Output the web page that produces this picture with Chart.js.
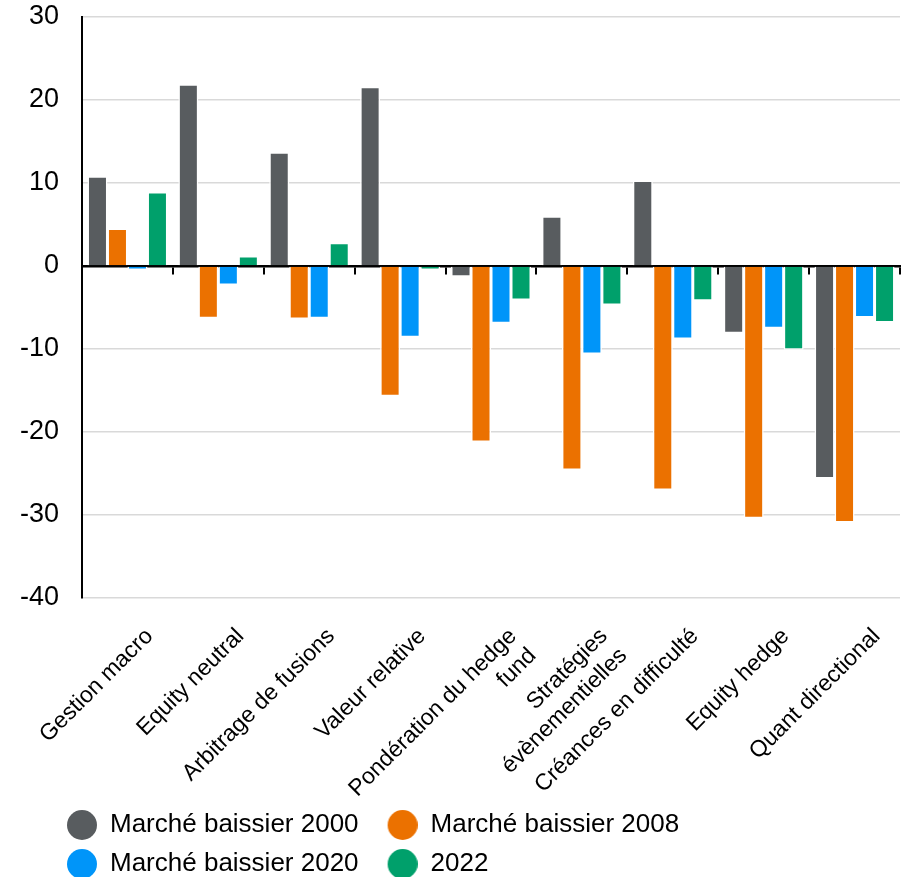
<!DOCTYPE html>
<html lang="fr">
<head>
    <meta charset="UTF-8">
    <title>Stratégies hedge fund - marchés baissiers</title>
    <script src="https://cdn.jsdelivr.net/npm/chart.js"></script>
    <style>
        html, body { margin: 0; padding: 0; background: #fff; }
        .chart-box { width: 914px; height: 877px; }
    </style>
</head>
<body>
    <div class="chart-box">
        <canvas id="hedgeGrafik"></canvas>
    </div>

    <script>
        // categories (multi-line ones as arrays)
        const categories = [
            'Gestion macro',
            'Equity neutral',
            'Arbitrage de fusions',
            'Valeur relative',
            ['Pondération du hedge', 'fund'],
            ['Stratégies', 'évènementielles'],
            'Créances en difficulté',
            'Equity hedge',
            'Quant directional'
        ];

        const bear2000 = [10.8, 21.9, 13.7, 21.6, -1.3, 6.0, 10.3, -8.1, -25.6];
        const bear2008 = [4.5, -6.3, -6.4, -15.7, -21.2, -24.6, -27.0, -30.4, -30.9];
        const bear2020 = [-0.5, -2.3, -6.3, -8.6, -6.9, -10.6, -8.8, -7.5, -6.2];
        const year2022 = [8.9, 1.2, 2.8, -0.5, -4.1, -4.7, -4.2, -10.1, -6.8];

        const yTicks = [30, 20, 10, 0, -10, -20, -30, -40];

        const colors = ['#585c5f', '#eb7100', '#0095f9', '#00a06b'];

        // legend marker: round dot sitting at the right end of a wider box
        function makeDot(color) {
            const c = document.createElement('canvas');
            c.width = 46;
            c.height = 30;
            const g = c.getContext('2d');
            g.fillStyle = color;
            g.beginPath();
            g.arc(31, 15, 15, 0, Math.PI * 2);
            g.fill();
            return c;
        }
        const dots = colors.map(makeDot);

        const xShrink = 50; // let the x labels run into the space above the legend

        // move the legend a bit and give the x labels their full room back
        const layoutTweak = {
            id: 'layoutTweak',
            afterLayout(chart) {
                const lg = chart.legend;
                if (lg) {
                    lg.left += 18;
                    lg.top += 10;
                    lg.bottom += 10;
                }
                chart.scales.x.bottom += xShrink;
            }
        };

        const noSidePadding = s => {
            s.paddingLeft = 0;
            s.paddingRight = 0;
        };

        const font = 'Liberation Sans, Arial, sans-serif';

        const ds = (label, data, i) => ({
            label: label,
            data: data,
            backgroundColor: colors[i],
            borderColor: '#ffffff',
            borderWidth: 1.5,
            barPercentage: 1.0,
            categoryPercentage: 0.88
        });

        new Chart(document.getElementById('hedgeGrafik'), {
            type: 'bar',
            data: {
                labels: categories,
                datasets: [
                    ds('Marché baissier 2000', bear2000, 0),
                    ds('Marché baissier 2008', bear2008, 1),
                    ds('Marché baissier 2020', bear2020, 2),
                    ds('2022', year2022, 3)
                ]
            },
            options: {
                responsive: true,
                maintainAspectRatio: false,
                animation: false,
                layout: { padding: { left: 20, right: 14, top: 17, bottom: 0 } },
                plugins: {
                    tooltip: { enabled: false },
                    legend: {
                        position: 'bottom',
                        align: 'start',
                        labels: {
                            usePointStyle: true,
                            pointStyleWidth: 46,
                            boxHeight: 26,
                            padding: 13,
                            color: '#000',
                            font: { family: font, size: 26 },
                            generateLabels: chart =>
                                Chart.defaults.plugins.legend.labels.generateLabels(chart)
                                    .map((item, i) => Object.assign(item, { pointStyle: dots[i] }))
                        }
                    }
                },
                scales: {
                    x: {
                        grid: { display: false },
                        border: { display: false },
                        afterFit: s => {
                            noSidePadding(s);
                            s.height -= xShrink;
                        },
                        ticks: {
                            color: '#000',
                            font: { family: font, size: 23 },
                            maxRotation: 45,
                            minRotation: 45,
                            autoSkip: false,
                            labelOffset: 22,
                            padding: 17
                        }
                    },
                    x0: {
                        type: 'category',
                        labels: categories,
                        position: { y: 0 },
                        z: 1,
                        offset: true,
                        afterFit: noSidePadding,
                        grid: {
                            offset: true,
                            drawOnChartArea: false,
                            drawTicks: true,
                            tickLength: 7,
                            color: '#000',
                            lineWidth: 2
                        },
                        border: { color: '#000', width: 2.5 },
                        ticks: { display: false }
                    },
                    y: {
                        min: -40,
                        max: 30,
                        afterBuildTicks: scale => {
                            scale.ticks = yTicks.map(v => ({ value: v }));
                        },
                        afterFit: s => {
                            s.paddingTop = 0;
                            s.paddingBottom = 0;
                            s.width -= s.options.ticks.padding;
                        },
                        grid: {
                            color: ctx => ctx.tick && ctx.tick.value === 0 ? 'rgba(0,0,0,0)' : '#d9d9d9',
                            lineWidth: 1.5,
                            drawTicks: false
                        },
                        border: { color: '#000', width: 2 },
                        ticks: {
                            color: '#000',
                            padding: 23,
                            font: { family: font, size: 27 }
                        }
                    }
                }
            },
            plugins: [layoutTweak]
        });
    </script>
</body>
</html>
